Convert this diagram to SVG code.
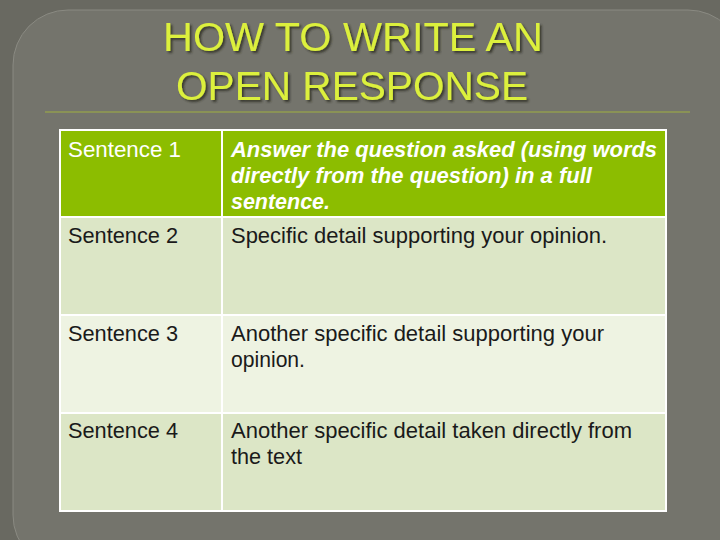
<svg xmlns="http://www.w3.org/2000/svg" width="720" height="540" viewBox="0 0 720 540">
<defs>
<filter id="sh" x="-5%" y="-20%" width="110%" height="140%"><feDropShadow dx="2" dy="2" stdDeviation="1" flood-color="#2a2a20" flood-opacity="0.8"/></filter>
</defs>
<style>
.t{font-family:"Liberation Sans",Arial,sans-serif;font-size:22px}
.w{fill:#ffffff}.k{fill:#1a1a1a}
.i{font-style:italic;font-weight:bold}
.title{font-family:"Liberation Sans",Arial,sans-serif;font-size:40px;fill:#dcf03c;text-anchor:middle;filter:url(#sh)}
</style>
<rect width="720" height="540" fill="#696961"/>
<rect x="13" y="10" width="730" height="560" rx="55" fill="#74746c" stroke="#8a8a82" stroke-width="1"/>
<line x1="45" y1="112" x2="690" y2="112" stroke="#a0b040" stroke-width="1"/>
<g id="title">
<text class="title" x="353" y="51" textLength="380" lengthAdjust="spacingAndGlyphs">HOW TO WRITE AN</text>
<text class="title" x="352" y="100" textLength="352" lengthAdjust="spacingAndGlyphs">OPEN RESPONSE</text>
</g>
<g id="table" stroke="#ffffff" stroke-width="2">
<rect x="60" y="130" width="606" height="87" fill="#8cbd00"/>
<rect x="60" y="217" width="606" height="98" fill="#dce6c6"/>
<rect x="60" y="315" width="606" height="98" fill="#eef3e2"/>
<rect x="60" y="413" width="606" height="98" fill="#dce6c6"/>
<line x1="222" y1="130" x2="222" y2="511"/>
</g>
<g id="r1" font-size="20"><text class="t w" x="68" y="157" textLength="113" lengthAdjust="spacingAndGlyphs">Sentence 1</text>
<text class="t w i" x="231" y="157" textLength="426" lengthAdjust="spacingAndGlyphs">Answer the question asked (using words</text>
<text class="t w i" x="231" y="183" textLength="361" lengthAdjust="spacingAndGlyphs">directly from the question) in a full</text>
<text class="t w i" x="231" y="209" textLength="99" lengthAdjust="spacingAndGlyphs">sentence.</text></g>
<g id="r2"><text class="t k" x="68" y="243" textLength="110" lengthAdjust="spacingAndGlyphs">Sentence 2</text>
<text class="t k" x="231" y="243" textLength="376" lengthAdjust="spacingAndGlyphs">Specific detail supporting your opinion.</text></g>
<g id="r3"><text class="t k" x="68" y="341" textLength="110" lengthAdjust="spacingAndGlyphs">Sentence 3</text>
<text class="t k" x="231" y="341" textLength="373" lengthAdjust="spacingAndGlyphs">Another specific detail supporting your</text>
<text class="t k" x="231" y="367" textLength="74" lengthAdjust="spacingAndGlyphs">opinion.</text></g>
<g id="r4"><text class="t k" x="68" y="438" textLength="110" lengthAdjust="spacingAndGlyphs">Sentence 4</text>
<text class="t k" x="231" y="438" textLength="401" lengthAdjust="spacingAndGlyphs">Another specific detail taken directly from</text>
<text class="t k" x="231" y="464" textLength="71" lengthAdjust="spacingAndGlyphs">the text</text></g>
</svg>
